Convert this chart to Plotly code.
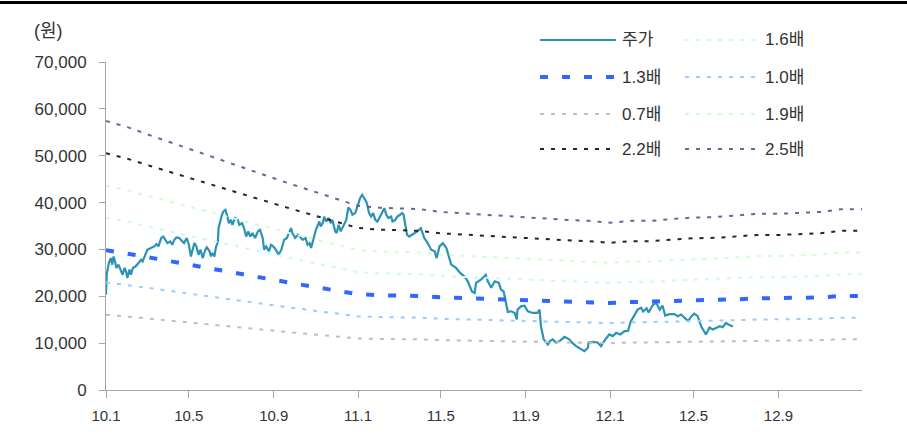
import pandas as pd
import plotly.graph_objects as go

# Monthly book value per share (원), 2010.1 - 2013.1
bps = [22960, 22440, 21840, 21200, 20560, 19960, 19320, 18720, 18080, 17480,
       16880, 16280, 15720, 15560, 15520, 15440, 15200, 15080, 15000, 14880,
       14720, 14600, 14520, 14440, 14280, 14440, 14440, 14600, 14720, 14760,
       14880, 15040, 15040, 15120, 15200, 15440, 15440]
bps_start = "2010-01-01"

# PBR multiples for the band lines
multiples = [1.6, 1.3, 1.0, 0.7, 1.9, 2.2, 2.5]

# Share price (원); days counted from 2010-01-01
price_day = [0, 1, 4, 7, 9, 11, 13, 15, 18, 22,
             24, 27, 29, 31, 34, 36, 39, 43, 47, 51,
             53, 57, 60, 65, 70, 73, 76, 80, 83, 86,
             89, 93, 96, 99, 102, 106, 110, 113, 117, 120,
             123, 125, 128, 131, 134, 137, 140, 144, 146, 150,
             152, 154, 157, 159, 162, 163, 165, 168, 170, 173,
             175, 178, 181, 183, 187, 191, 193, 197, 200, 203,
             206, 209, 212, 216, 220, 223, 227, 229, 232, 236,
             239, 242, 246, 250, 254, 256, 258, 262, 265, 268,
             270, 274, 278, 281, 285, 289, 292, 295, 297, 299,
             302, 304, 307, 309, 311, 314, 316, 319, 322, 326,
             328, 332, 334, 337, 340, 343, 345, 348, 351, 354,
             357, 361, 365, 368, 371, 374, 377, 379, 381, 384,
             387, 390, 393, 397, 400, 403, 406, 409, 413, 415,
             419, 422, 426, 429, 431, 434, 436, 439, 447, 451,
             456, 461, 466, 471, 476, 479, 483, 488, 493, 496,
             500, 507, 513, 519, 524, 530, 534, 536, 543, 550,
             553, 558, 563, 569, 572, 576, 579, 582, 587, 592,
             595, 596, 601, 606, 611, 618, 625, 628, 630, 634,
             640, 643, 647, 652, 657, 664, 671, 675, 681, 688,
             693, 698, 699, 705, 712, 717, 722, 729, 734, 739,
             745, 751, 756, 760, 765, 770, 775, 778, 783, 786,
             792, 797, 802, 806, 810, 816, 823, 828, 833, 838,
             843, 848, 852, 857, 862, 869, 874, 879, 884, 889,
             893, 898, 903, 908]
price = [20350, 24600, 27100, 28150, 26750, 28500, 27450, 26050, 26750, 25000,
         24600, 26050, 25300, 23900, 25700, 24600, 26050, 26400, 27100, 27800,
         27450, 28850, 29950, 30300, 30650, 31150, 30650, 32450, 32750, 32050,
         31350, 31700, 31000, 32050, 32550, 32450, 31700, 31350, 32450, 31000,
         28500, 29600, 31350, 30650, 28850, 29950, 28150, 29950, 30450, 29600,
         28500, 29250, 28500, 30300, 31700, 34550, 35950, 37400, 38100, 38450,
         37400, 35600, 36300, 35250, 36700, 36300, 35250, 35600, 34550, 32750,
         33850, 32750, 33500, 32450, 33850, 34200, 32450, 29950, 30650, 29600,
         31000, 30650, 29950, 28850, 29950, 31350, 32050, 32450, 33500, 34550,
         33500, 32450, 33150, 32750, 32050, 32450, 31000, 31350, 30300, 31350,
         33500, 34200, 35250, 35950, 34900, 35600, 37000, 35950, 36700, 35600,
         36300, 33850, 33500, 35250, 33850, 34900, 35250, 36300, 38950, 38450,
         37400, 37750, 39500, 40950, 41650, 41050, 40200, 39150, 37750, 37000,
         37750, 36300, 35950, 37000, 38100, 38800, 37400, 36700, 37000, 35950,
         36300, 37000, 37400, 37750, 37400, 34550, 33150, 32750, 33500, 33850,
         34550, 32450, 31350, 29950, 29600, 28150, 30650, 31350, 30300, 28500,
         26750, 26050, 25000, 24250, 23200, 21050, 20700, 22850, 23550, 24600,
         23200, 21800, 23200, 22850, 21450, 21000, 18950, 16650, 16800, 16450,
         15050, 17150, 17850, 18000, 16800, 16450, 16450, 17150, 13600, 10800,
         9700, 10450, 10800, 10100, 10450, 11350, 10800, 10100, 9350, 8650,
         8300, 9000, 10100, 10250, 10150, 9350, 10550, 11850, 11500, 12200,
         11850, 12550, 12600, 14600, 15750, 17150, 17550, 16750, 17450, 16550,
         18150, 18600, 17150, 18000, 15900, 16200, 16200, 15750, 16100, 15400,
         14700, 15750, 16300, 15750, 13600, 11850, 13350, 12900, 13300, 13600,
         13400, 14300, 13850, 13550]
assert len(price_day) == len(price)

price_name = "주가"
y_ticks = [0, 10000, 20000, 30000, 40000, 50000, 60000, 70000]

# ---- styling ----
FONT = "Liberation Sans, Noto Sans CJK KR, sans-serif"
TEXT = "#333333"
AXIS = "#A6A6A6"
price_style = dict(color="#2C93B5", width=2.2)
band_style = {
    1.6: dict(color="#C8F8FC", width=2, dash="4px,7px"),
    1.3: dict(color="#3366FF", width=4, dash="8px,14px"),
    1.0: dict(color="#99CCFF", width=2, dash="4px,7px"),
    0.7: dict(color="#BFBFBF", width=2, dash="4px,7px"),
    1.9: dict(color="#CCFFCC", width=2, dash="4px,7px"),
    2.2: dict(color="#262626", width=2, dash="4px,7px"),
    2.5: dict(color="#666699", width=2, dash="4px,7px"),
}

W, H = 907, 442
L, T, R, B = 106, 62, 45, 52
PW, PH = W - L - R, H - T - B


def px(x):
    return (x - L) / PW


def py(y):
    return (T + PH - y) / PH


months = pd.date_range(bps_start, periods=len(bps), freq="MS")
price_dates = pd.Timestamp(bps_start) + pd.to_timedelta(price_day, unit="D")

fig = go.Figure()
fig.add_trace(go.Scatter(x=price_dates, y=price, mode="lines", name=price_name,
                         line=price_style))
for m in multiples:
    fig.add_trace(go.Scatter(x=months, y=[b * m for b in bps], mode="lines",
                             name=f"{m:.1f}배", line=band_style[m]))

# legend drawn as two columns inside the plot area
legend_order = [price_name] + [f"{m:.1f}배" for m in multiples]
legend_styles = [price_style] + [band_style[m] for m in multiples]
col_x = [(540, 616, 620), (685, 759, 763)]
row_y = [40, 77, 114, 149]
shapes = []
annotations = []
for i, (label, st) in enumerate(zip(legend_order, legend_styles)):
    c, r = i % 2, i // 2
    x0, x1, tx = col_x[c]
    yy = row_y[r]
    shapes.append(dict(type="line", xref="paper", yref="paper",
                       x0=px(x0), x1=px(x1), y0=py(yy), y1=py(yy),
                       line=dict(color=st["color"], width=st["width"],
                                 dash=st.get("dash", "solid"))))
    annotations.append(dict(xref="paper", yref="paper", x=px(tx), y=py(yy),
                            text=label, showarrow=False, xanchor="left",
                            yanchor="middle",
                            font=dict(size=17, color=TEXT, family=FONT)))

# unit label and top rule
annotations.append(dict(xref="paper", yref="paper", x=px(32), y=py(31),
                        text="(원)", showarrow=False, xanchor="left",
                        yanchor="middle", font=dict(size=18, color=TEXT, family=FONT)))
shapes.append(dict(type="line", xref="paper", yref="paper",
                   x0=px(0), x1=px(W), y0=py(2.5), y1=py(2.5),
                   line=dict(color="#000000", width=3)))

fig.update_layout(
    width=W, height=H,
    margin=dict(l=L, r=R, t=T, b=B),
    paper_bgcolor="white", plot_bgcolor="white",
    showlegend=False,
    font=dict(family=FONT, color=TEXT),
    shapes=shapes, annotations=annotations,
    xaxis=dict(type="date", range=["2010-01-01", "2012-12-31"],
               tick0="2010-01-01", dtick="M4", tickformat="%y.%-m",
               ticks="outside", ticklen=7, tickcolor=AXIS,
               ticklabelstandoff=5,
               showline=True, linecolor=AXIS, linewidth=1,
               showgrid=False, zeroline=False,
               tickfont=dict(size=15, color=TEXT, family=FONT)),
    yaxis=dict(range=[0, 70000], tickvals=y_ticks, tickformat=",",
               ticks="outside", ticklen=6, tickcolor=AXIS,
               ticklabelstandoff=9,
               showline=True, linecolor=AXIS, linewidth=1,
               showgrid=False, zeroline=False,
               tickfont=dict(size=17, color=TEXT, family=FONT)),
)

fig.write_html("out.html")
